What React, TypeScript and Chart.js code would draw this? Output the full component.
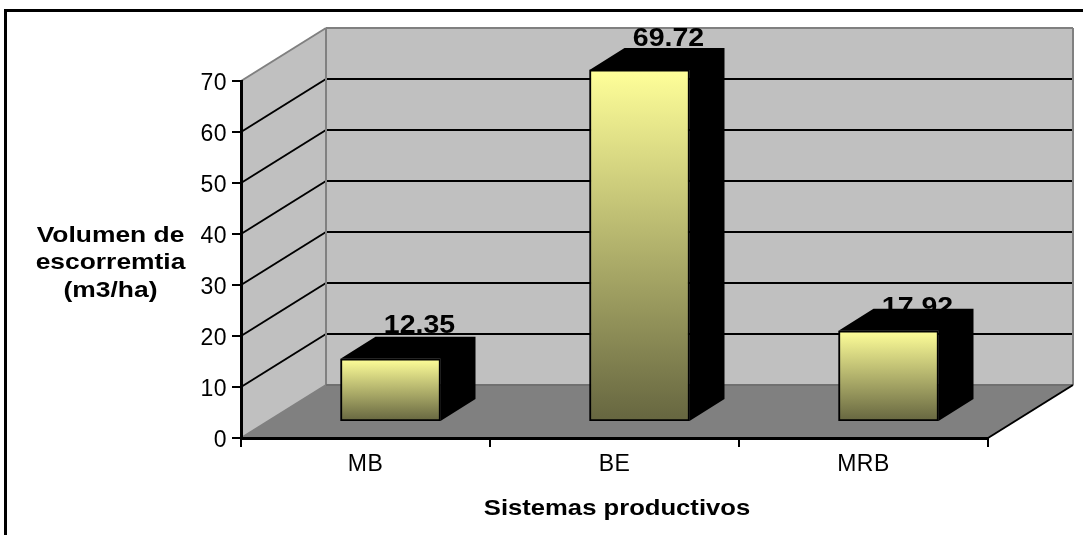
import React, { useEffect, useRef } from "react";
import { Chart, registerables } from "chart.js";

Chart.register(...registerables);

const categories = ["MB", "BE", "MRB"];
const runoffValues = [12.35, 69.72, 17.92];
const runoffLabels = ["12.35", "69.72", "17.92"];
const yTickStep = 10;
const yTickMax = 70;
const yTitleLines = ["Volumen de", "escorremtia", "(m3/ha)"];
const xTitle = "Sistemas productivos";

const FONT = '"Liberation Sans", Arial, sans-serif';

// Oblique projection of the box: back wall offset, bar plane offset, bar depth.
const WALL = { dx: 85, dy: -53 };
const BAR_PLANE = { dx: 25, dy: -17 };
const BAR_DEPTH = { dx: 35, dy: -22 };
const LABEL_LIFT = [26, 24, 16];

function stretchedText(
  ctx: CanvasRenderingContext2D,
  text: string,
  cx: number,
  baseline: number,
  size: number,
  stretch: number
) {
  ctx.save();
  ctx.translate(cx, baseline);
  ctx.scale(stretch, 1);
  (ctx as any).letterSpacing = "0px";
  ctx.font = `bold ${size}px ${FONT}`;
  ctx.fillStyle = "#000";
  ctx.textAlign = "center";
  ctx.textBaseline = "alphabetic";
  ctx.fillText(text, 0, 0);
  ctx.restore();
}

function line(ctx: CanvasRenderingContext2D, x1: number, y1: number, x2: number, y2: number, color: string, width: number) {
  ctx.strokeStyle = color;
  ctx.lineWidth = width;
  ctx.beginPath();
  ctx.moveTo(x1, y1);
  ctx.lineTo(x2, y2);
  ctx.stroke();
}

function poly(ctx: CanvasRenderingContext2D, pts: number[][], color: string) {
  ctx.fillStyle = color;
  ctx.beginPath();
  pts.forEach(([x, y], i) => (i ? ctx.lineTo(x, y) : ctx.moveTo(x, y)));
  ctx.closePath();
  ctx.fill();
}

// Frame, side wall, back wall, floor and wall gridlines behind the bars.
const boxPlugin = {
  id: "box3d",
  beforeDraw(chart: any) {
    const { ctx, chartArea: a, scales } = chart;
    const y = scales.y;
    const { dx, dy } = WALL;
    ctx.save();
    ctx.fillStyle = "#fff";
    ctx.fillRect(0, 0, chart.width, chart.height);
    line(ctx, 5.5, 10, 5.5, chart.height, "#000", 3);
    line(ctx, 4, 10.5, chart.width, 10.5, "#000", 3);

    poly(ctx, [[a.left, a.bottom], [a.left + dx, a.bottom + dy], [a.left + dx, a.top + dy], [a.left, a.top]], "#c0c0c0");
    poly(ctx, [[a.left + dx, a.top + dy], [a.right + dx, a.top + dy], [a.right + dx, a.bottom + dy], [a.left + dx, a.bottom + dy]], "#c0c0c0");
    poly(ctx, [[a.left, a.bottom], [a.right, a.bottom], [a.right + dx, a.bottom + dy], [a.left + dx, a.bottom + dy]], "#808080");

    for (const t of y.ticks) {
      if (t.value === 0 || t.value === yTickMax) continue;
      const py = y.getPixelForValue(t.value);
      line(ctx, a.left, py, a.left + dx, py + dy, "#000", 2);
      line(ctx, a.left + dx, py + dy, a.right + dx, py + dy, "#000", 2);
    }
    line(ctx, a.left, a.top, a.left + dx, a.top + dy, "#808080", 2);
    line(ctx, a.left + dx, a.top + dy, a.right + dx, a.top + dy, "#808080", 2);
    line(ctx, a.left + dx, a.top + dy, a.left + dx, a.bottom + dy, "#808080", 2);
    line(ctx, a.right + dx, a.top + dy, a.right + dx, a.bottom + dy, "#808080", 2);
    line(ctx, a.left, a.bottom, a.left + dx, a.bottom + dy, "#808080", 2);
    line(ctx, a.left + dx, a.bottom + dy, a.right + dx, a.bottom + dy, "#707070", 2);
    line(ctx, a.right, a.bottom, a.right + dx, a.bottom + dy, "#000", 2);

    yTitleLines.forEach((s, i) => stretchedText(ctx, s, 110.5, 241.5 + i * 27.5, 22, 1.2));
    stretchedText(ctx, xTitle, 617, 515, 22, 1.165);
    ctx.restore();
    // Slightly wider tracking for the axis tick labels drawn after this hook.
    ctx.letterSpacing = "0.5px";
  },
  beforeDatasetsDraw(chart: any) {
    const { ctx } = chart;
    const bars = chart.getDatasetMeta(0).data;
    ctx.save();
    ctx.translate(BAR_PLANE.dx, BAR_PLANE.dy);

    // Value labels sit behind the black extrusion of each bar.
    bars.forEach((b: any, i: number) => {
      stretchedText(ctx, runoffLabels[i], b.x + 29, b.y - LABEL_LIFT[i], 25, 1.14);
    });

    bars.forEach((b: any) => {
      const l = b.x - b.width / 2;
      const r = b.x + b.width / 2;
      const { dx, dy } = BAR_DEPTH;
      poly(ctx, [[l, b.y], [l + dx, b.y + dy], [r + dx, b.y + dy], [r + dx, b.base + dy], [r, b.base], [r, b.y]], "#000");
    });
    // Left open: the bars themselves are drawn in the shifted plane as well.
  },
  afterDatasetsDraw(chart: any) {
    chart.ctx.restore();
  },
};

export default function App() {
  const ref = useRef<HTMLCanvasElement>(null);

  useEffect(() => {
    if (!ref.current) return;
    const chart = new Chart(ref.current, {
      type: "bar",
      data: {
        labels: categories,
        datasets: [
          {
            label: "Volumen de escorremtia",
            data: runoffValues,
            yAxisID: "yBarPlane",
            barThickness: 100,
            borderColor: "#000",
            borderWidth: 2,
            borderSkipped: false,
            backgroundColor: (c: any) => {
              const { chart: ch, dataIndex } = c;
              const s = ch.scales.yBarPlane;
              if (!s || dataIndex === undefined) return "#ffff99";
              const top = s.getPixelForValue(runoffValues[dataIndex]);
              const bottom = s.getPixelForValue(0);
              // The scale has no pixel range until the first layout pass has run.
              if (!Number.isFinite(top) || !Number.isFinite(bottom)) return "#ffff99";
              const g = ch.ctx.createLinearGradient(0, top, 0, bottom);
              g.addColorStop(0, "#ffff99");
              g.addColorStop(1, "#666640");
              return g;
            },
          },
        ],
      },
      plugins: [boxPlugin],
      options: {
        responsive: false,
        animation: false,
        layout: { padding: { left: 0, top: 81, right: 95, bottom: 0 } },
        plugins: { legend: { display: false }, tooltip: { enabled: false }, title: { display: false } },
        scales: {
          x: {
            afterFit: (s: any) => {
              s.height = 97;
            },
            grid: { drawOnChartArea: false, color: "#000", lineWidth: 2, tickLength: 9 },
            border: { color: "#000", width: 3 },
            ticks: { color: "#000", font: { family: FONT, size: 23 }, padding: 4, maxRotation: 0 },
          },
          y: {
            min: 0,
            max: yTickMax,
            afterFit: (s: any) => {
              s.width = 241;
            },
            grid: { drawOnChartArea: false, color: "#000", lineWidth: 2, tickLength: 9 },
            border: { color: "#000", width: 3 },
            ticks: { stepSize: yTickStep, color: "#000", font: { family: FONT, size: 23 }, padding: 5, labelOffset: 3 },
          },
          // Bars stand further into the box, where the value scale is slightly foreshortened.
          yBarPlane: { display: false, min: 0, max: 70.9 },
        },
      },
    });
    return () => chart.destroy();
  }, []);

  return (
    <div style={{ position: "absolute", left: 0, top: 0, width: 1083, height: 535 }}>
      <canvas ref={ref} width={1083} height={535} style={{ display: "block" }} />
    </div>
  );
}
